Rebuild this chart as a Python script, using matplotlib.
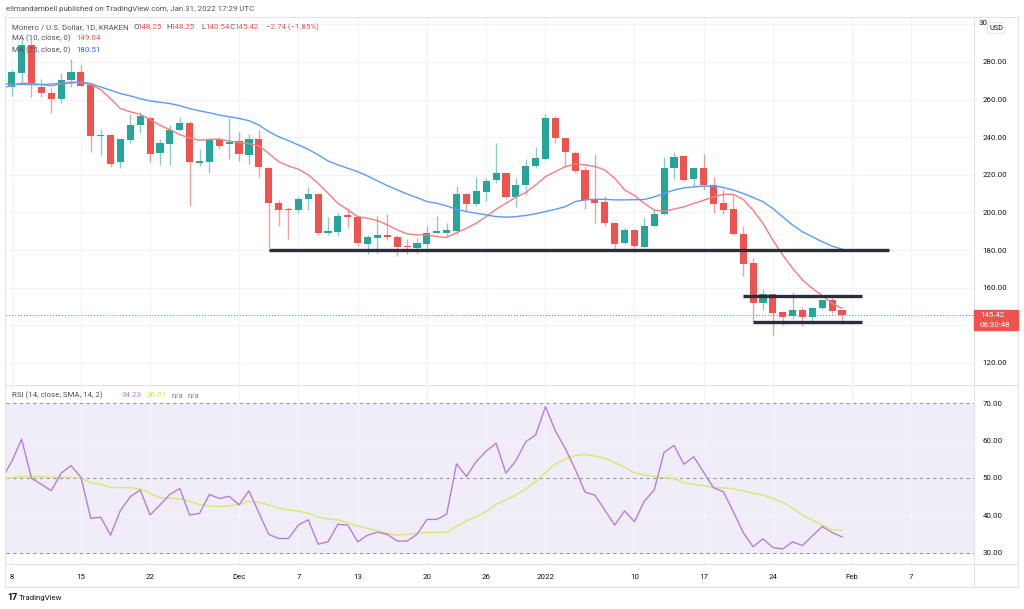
#!/usr/bin/env python
"""Monero / USD daily candles with MA10, MA25 and RSI pane (TradingView style)"""
import matplotlib
matplotlib.use('Agg')
import matplotlib.pyplot as plt
import matplotlib.dates as mdates
import numpy as np
import pandas as pd
from matplotlib.lines import Line2D
from matplotlib.patches import Rectangle

plt.rcParams['font.family'] = ['Roboto', 'DejaVu Sans']

W, H = 1024, 609

# daily candles, Nov 8 2021 .. Jan 31 2022
first_day = '2021-11-08'
opens = [266.5, 274.3, 289.0, 266.5, 263.7, 260.4, 270.3, 274.9, 268.0, 240.5,
         241.0, 226.7, 238.4, 246.7, 250.4, 231.7, 236.3, 243.7, 247.8, 226.5,
         226.8, 239.0, 236.3, 238.2, 230.4, 238.9, 223.5, 205.2, 201.5, 201.2,
         207.2, 209.7, 189.3, 189.8, 198.7, 197.8, 183.3, 186.3, 188.1, 187.2,
         182.2, 181.0, 183.3, 189.2, 189.0, 190.4, 209.7, 204.3, 211.0, 217.3,
         220.8, 208.4, 214.6, 224.9, 228.6, 250.0, 239.4, 231.4, 222.6, 207.0,
         205.4, 194.6, 183.6, 190.7, 181.8, 192.7, 199.1, 223.9, 229.9, 217.7,
         223.9, 214.5, 204.8, 201.6, 188.3, 172.9, 151.7, 156.6, 146.9, 145.0,
         148.1, 144.6, 149.0, 153.5, 148.25]
highs = [276.0, 292.0, 292.0, 271.0, 266.0, 274.3, 281.4, 278.2, 268.8, 244.6,
         241.5, 239.3, 252.2, 253.3, 251.0, 239.1, 246.7, 250.8, 248.8, 233.5,
         239.5, 240.0, 250.0, 243.0, 241.5, 243.8, 224.0, 206.6, 203.1, 208.4,
         213.7, 210.6, 197.8, 199.9, 202.2, 198.0, 188.1, 198.1, 199.2, 187.8,
         185.8, 186.3, 193.0, 198.0, 194.3, 214.0, 210.6, 218.7, 218.2, 236.8,
         221.0, 218.5, 228.3, 235.0, 252.3, 251.3, 239.6, 232.8, 224.7, 231.0,
         208.8, 195.0, 191.6, 191.0, 197.7, 201.2, 229.6, 231.9, 230.4, 223.9,
         231.0, 218.9, 212.7, 209.7, 192.7, 175.6, 159.1, 156.8, 147.2, 157.5,
         149.6, 149.6, 153.8, 155.2, 148.25]
lows = [262.0, 269.0, 261.5, 261.5, 253.0, 258.2, 266.7, 267.0, 232.2, 230.4,
        224.0, 223.9, 237.0, 242.3, 226.9, 225.1, 225.5, 243.4, 203.5, 224.5,
        220.8, 233.6, 228.2, 227.4, 225.8, 219.1, 181.0, 193.0, 185.8, 199.6,
        201.3, 188.0, 188.0, 187.7, 192.0, 182.0, 178.0, 178.7, 185.4, 177.1,
        178.0, 178.3, 179.2, 188.5, 187.5, 188.1, 200.8, 203.4, 206.3, 215.8,
        207.3, 203.1, 209.3, 223.5, 228.0, 236.7, 224.4, 220.8, 201.9, 194.3,
        192.9, 180.4, 183.3, 179.2, 180.9, 192.5, 198.8, 218.0, 216.8, 213.6,
        211.9, 199.8, 199.1, 188.0, 166.2, 141.9, 148.1, 134.9, 140.2, 143.5,
        139.6, 141.0, 148.8, 146.4, 140.54]
closes = [274.7, 289.0, 268.0, 263.7, 260.4, 270.3, 274.9, 267.3, 240.5, 241.0,
          226.0, 238.8, 246.7, 251.2, 231.3, 237.0, 243.7, 247.8, 226.7, 227.6,
          239.0, 235.5, 237.3, 231.0, 238.9, 224.4, 204.9, 201.2, 201.2, 207.2,
          209.7, 189.3, 190.2, 198.3, 197.8, 183.6, 186.9, 188.1, 187.0, 181.9,
          181.5, 184.0, 189.0, 190.0, 190.7, 210.0, 204.3, 211.4, 216.7, 220.8,
          208.4, 214.6, 224.9, 228.8, 250.0, 239.4, 232.0, 222.0, 206.7, 204.9,
          194.6, 183.3, 190.7, 182.2, 192.7, 199.1, 223.9, 229.6, 217.5, 223.9,
          214.5, 204.4, 201.2, 188.3, 172.6, 152.0, 156.6, 146.7, 144.6, 148.1,
          144.6, 149.0, 153.5, 147.8, 145.42]

# indicator values, Nov 7 2021 .. Jan 31 2022
ind_first_day = '2021-11-07'
ma10 = [266.0, 267.5, 268.8, 268.5, 268.0, 267.3, 268.5, 269.4, 269.0, 268.0,
        265.3, 260.5, 255.2, 253.5, 252.2, 249.4, 246.4, 244.0, 241.4, 239.6,
        238.4, 238.8, 239.0, 238.0, 237.1, 236.6, 235.5, 231.4, 227.0, 224.7,
        223.0, 220.0, 215.5, 210.2, 204.9, 201.4, 197.8, 196.9, 195.7, 193.4,
        190.7, 188.6, 188.1, 188.1, 187.2, 186.7, 189.3, 191.6, 194.3, 197.8,
        201.7, 204.9, 208.1, 210.6, 214.6, 219.1, 221.7, 224.4, 225.8, 225.3,
        224.4, 222.6, 218.2, 212.0, 209.0, 204.8, 201.2, 200.7, 201.8, 203.0,
        204.8, 206.5, 208.3, 209.7, 209.6, 206.9, 201.2, 194.2, 185.3, 177.3,
        170.3, 164.1, 159.6, 155.8, 151.7, 149.04]
ma25 = [268.4, 268.2, 268.1, 268.0, 268.0, 268.3, 268.6, 268.8, 269.4, 268.5,
        266.7, 265.0, 263.2, 262.0, 260.5, 259.3, 258.6, 257.9, 256.8, 255.2,
        254.0, 253.0, 251.8, 250.9, 250.0, 248.8, 246.5, 243.0, 240.3, 238.2,
        235.9, 233.6, 230.6, 227.4, 225.3, 223.5, 221.7, 219.4, 216.8, 214.3,
        212.0, 209.8, 207.9, 205.8, 204.9, 203.5, 201.7, 200.5, 199.6, 198.7,
        197.8, 197.5, 197.8, 198.4, 199.3, 200.5, 201.7, 203.1, 205.8, 206.7,
        207.0, 207.0, 206.7, 206.7, 206.8, 206.9, 208.3, 210.1, 211.9, 213.1,
        213.6, 214.0, 214.0, 213.3, 211.9, 210.1, 208.0, 205.7, 202.1, 197.7,
        193.3, 189.7, 187.1, 184.4, 182.1, 180.51]
rsi = [49.8, 54.4, 60.4, 49.9, 48.3, 46.6, 51.3, 53.3, 50.2, 39.2,
       39.5, 34.7, 41.3, 45.0, 46.8, 40.1, 42.8, 45.6, 47.2, 40.1,
       40.5, 45.6, 44.5, 45.1, 42.8, 46.6, 40.7, 34.9, 33.8, 33.8,
       37.4, 38.8, 32.3, 32.9, 37.6, 37.4, 32.9, 34.7, 35.5, 34.9,
       33.1, 33.1, 34.9, 38.9, 38.9, 40.3, 53.8, 50.4, 54.4, 57.2,
       59.3, 51.3, 54.6, 59.7, 61.5, 69.1, 62.6, 57.9, 52.4, 46.2,
       45.4, 41.4, 37.4, 41.2, 38.3, 43.8, 46.8, 56.9, 58.7, 53.7,
       55.7, 51.5, 47.4, 46.3, 41.0, 35.4, 31.6, 33.7, 31.4, 31.0,
       32.9, 31.9, 34.5, 37.0, 35.4, 34.23]
rsi_ma = [49.8, 50.1, 50.4, 50.4, 50.4, 50.2, 50.2, 50.2, 49.9, 48.8,
          48.3, 47.5, 47.4, 47.4, 47.1, 45.9, 44.7, 44.6, 44.4, 43.8,
          42.9, 42.5, 42.3, 42.6, 42.9, 43.7, 43.5, 42.8, 41.9, 41.4,
          41.2, 40.5, 39.5, 39.0, 38.8, 38.0, 37.1, 36.5, 35.9, 35.2,
          34.7, 34.9, 35.2, 35.4, 35.4, 35.5, 37.0, 38.5, 39.6, 41.0,
          43.0, 44.1, 45.4, 47.1, 49.0, 51.5, 53.75, 55.1, 56.0, 56.3,
          55.9, 55.3, 54.1, 52.9, 51.4, 50.8, 50.4, 50.1, 49.9, 48.75,
          48.3, 47.95, 47.5, 47.4, 47.1, 46.5, 45.9, 45.4, 44.55, 43.5,
          41.9, 40.1, 38.75, 37.4, 36.1, 36.0]

# drawn horizontal levels: (start, end, price)
levels = [('2021-12-04', '2022-02-04 18:00', 180.0),
          ('2022-01-21', '2022-02-02', 155.8),
          ('2022-01-22', '2022-02-02', 141.6)]
last_price = 145.42

price_ticks = [120, 140, 160, 180, 200, 220, 240, 260, 280, 300]
rsi_ticks = [30, 40, 50, 60, 70]
time_ticks = ['2021-11-08', '2021-11-15', '2021-11-22', '2021-12-01', '2021-12-07',
              '2021-12-13', '2021-12-20', '2021-12-26', '2022-01-01', '2022-01-10',
              '2022-01-17', '2022-01-24', '2022-02-01', '2022-02-07']
time_labels = ['8', '15', '22', 'Dec', '7', '13', '20', '26', '2022', '10',
               '17', '24', 'Feb', '7']

UP = '#26a69a'
DOWN = '#ef5350'
GRID = '#f0f3fa'
BORDER = '#e0e3eb'
TXT = '#131722'


def fig_rect(left, top, right, bottom):
    return [left / W, 1 - bottom / H, (right - left) / W, (bottom - top) / H]


def ftext(fig, px, py, s, **kw):
    kw.setdefault('va', 'center')
    kw.setdefault('fontsize', 5.7)
    return fig.text(px / W, 1 - py / H, s, **kw)


def main():
    fig = plt.figure(figsize=(W / 100, H / 100), dpi=100)
    fig.patch.set_facecolor('white')

    days = mdates.date2num(pd.date_range(first_day, periods=len(closes)))
    ind_days = mdates.date2num(pd.date_range(ind_first_day, periods=len(ma10)))
    x0 = days[0] - 0.577
    x1 = days[0] + 97.35
    tpos = mdates.date2num(pd.to_datetime(time_ticks))

    ax = fig.add_axes(fig_rect(6, 17, 974, 384))
    ax_rsi = fig.add_axes(fig_rect(6, 385, 974, 564))

    for a in (ax, ax_rsi):
        a.set_xlim(x0, x1)
        for s in a.spines.values():
            s.set_visible(False)
        a.set_xticks(tpos)
        a.grid(axis='both', color=GRID, linewidth=0.8)
        a.set_axisbelow(True)
        a.yaxis.tick_right()
        a.tick_params(length=0, labelsize=5.7, labelcolor=TXT)

    # ---- price pane
    ax.set_ylim(108.82, 303.92)
    ax.set_yticks(price_ticks)
    # 140 sits under the last-price tag, 300 under the USD badge
    ax.set_yticklabels(['%.2f' % p if p not in (140, 300) else '' for p in price_ticks])
    ax.tick_params(axis='y', pad=6)
    ax.tick_params(axis='x', labelbottom=False)

    o = np.array(opens)
    c = np.array(closes)
    colors = [UP if cc >= oo else DOWN for oo, cc in zip(o, c)]
    body_lo = np.minimum(o, c)
    body_h = np.maximum(np.abs(c - o), 0.5)
    ax.vlines(days, lows, highs, colors=colors, linewidth=1.0, alpha=0.55, zorder=2)
    ax.bar(days, body_h, bottom=body_lo, width=0.72, color=colors, linewidth=0, zorder=3)

    ax.plot(ind_days, ma10, color='#f77c80', linewidth=1.0, zorder=4)
    ax.plot(ind_days, ma25, color='#5b9cf6', linewidth=1.0, zorder=4)

    for start, end, price in levels:
        ax.hlines(price, mdates.datestr2num(start), mdates.datestr2num(end),
                  colors='#2a2e39', linewidth=2.4, zorder=5)

    ax.axhline(last_price, color=DOWN, linewidth=0.7, linestyle=(0, (1, 2)), zorder=1)

    # ---- RSI pane
    ax_rsi.set_ylim(26.97, 74.9)
    ax_rsi.set_yticks(rsi_ticks)
    ax_rsi.set_yticklabels(['%.2f' % v for v in rsi_ticks])
    ax_rsi.tick_params(axis='y', pad=6)
    ax_rsi.set_xticklabels(time_labels)
    ax_rsi.tick_params(axis='x', pad=7)
    ax_rsi.axhspan(30, 70, color='#7e57c2', alpha=0.1, linewidth=0, zorder=0)
    for lvl in (30, 50, 70):
        ax_rsi.axhline(lvl, color='#9598a1', linewidth=0.8, linestyle=(0, (3, 3)), zorder=1)
    ax_rsi.plot(ind_days, rsi, color='#b57edc', linewidth=1.0, zorder=3)
    ax_rsi.plot(ind_days, rsi_ma, color='#dbe66e', linewidth=1.0, zorder=2)

    # ---- frame lines
    def fline(xa, ya, xb, yb):
        fig.add_artist(Line2D([xa / W, xb / W], [1 - ya / H, 1 - yb / H],
                              color=BORDER, linewidth=0.8))
    fline(5, 17, 1018, 17)
    fline(5, 587, 1018, 587)
    fline(5, 17, 5, 587)
    fline(1018, 17, 1018, 587)
    fline(974, 17, 974, 587)
    fline(5, 384.5, 1018, 384.5)
    fline(5, 564, 1018, 564)

    # ---- texts
    ftext(fig, 6, 9, 'elimandambell published on TradingView.com, Jan 31, 2022 17:29 UTC',
          color='#50535e')
    ftext(fig, 12, 27, 'Monero / U.S. Dollar, 1D, KRAKEN', color='#50535e')
    runs = [(133, 'O', '#50535e'), (137.5, '148.25', DOWN), (166, 'H', '#50535e'),
            (170, '148.25', DOWN), (201.5, 'L', '#50535e'), (205.5, '140.54', DOWN),
            (230, 'C', '#50535e'), (234.5, '145.42', DOWN), (266.5, '\u22122.74 (\u22121.85%)', DOWN)]
    for px, s, col in runs:
        ftext(fig, px, 27, s, color=col)
    ftext(fig, 12, 38.5, 'MA (10, close, 0)', color='#50535e')
    ftext(fig, 76, 38.5, '149.04', color=DOWN)
    ftext(fig, 12, 50, 'MA (25, close, 0)', color='#50535e')
    ftext(fig, 76, 50, '180.51', color='#2962ff')

    ftext(fig, 12, 395, 'RSI (14, close, SMA, 14, 2)', color='#50535e')
    ftext(fig, 122, 395, '34.23', color='#b57edc')
    ftext(fig, 147, 395, '36.01', color='#d4e157')
    ftext(fig, 171, 395, 'n/a', color='#787b86')
    ftext(fig, 187, 395, 'n/a', color='#787b86')

    # top price label peeking out from under the USD badge
    ftext(fig, 979, 23, '30', color=TXT)
    ftext(fig, 996, 28, 'USD', color=TXT, ha='center', fontsize=5.3,
          bbox=dict(boxstyle='round,pad=0.25', fc='white', ec=BORDER, lw=0.6))

    # last price tag
    fig.add_artist(Rectangle((974 / W, 1 - 330 / H), 44 / W, 20 / H,
                             transform=fig.transFigure, color=DOWN, zorder=5))
    ftext(fig, 980, 315, '%.2f' % last_price, color='white', zorder=6)
    ftext(fig, 980, 325, '06:30:48', color='white', zorder=6)

    # footer logo
    ftext(fig, 7, 598, '17', color='black', fontweight='bold', fontsize=6.5)
    ftext(fig, 19, 598, 'TradingView', color='#131722', fontsize=5.7)

    fig.savefig('out.png', dpi=100)


if __name__ == '__main__':
    main()
